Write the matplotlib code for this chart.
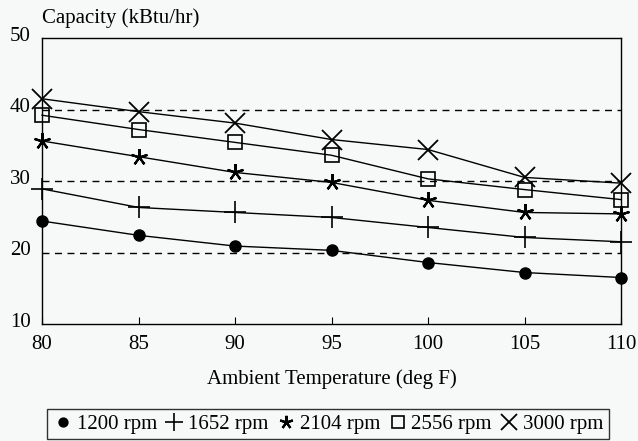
import matplotlib
matplotlib.use('Agg')
import matplotlib.pyplot as plt
from matplotlib.transforms import ScaledTranslation

temps = [80, 85, 90, 95, 100, 105, 110]
rpm_1200 = [24.4, 22.4, 20.9, 20.3, 18.6, 17.2, 16.5]
rpm_1652 = [28.9, 26.3, 25.6, 24.9, 23.5, 22.1, 21.5]
rpm_2104 = [35.6, 33.4, 31.2, 29.8, 27.3, 25.6, 25.4]
rpm_2556 = [39.2, 37.2, 35.4, 33.6, 30.3, 28.8, 27.4]
rpm_3000 = [41.5, 39.7, 38.1, 35.8, 34.4, 30.5, 29.7]
labels = ['1200 rpm', '1652 rpm', '2104 rpm', '2556 rpm', '3000 rpm']

plt.rcParams['font.family'] = ['Liberation Serif', 'DejaVu Serif']

fig = plt.figure(figsize=(6.38, 4.41), dpi=100)
fig.patch.set_facecolor('#f7f9f8')
ax = fig.add_axes([42/638, 1 - 324/441, (621 - 42)/638, (324 - 38)/441])
ax.set_facecolor('#f7f9f8')

for yv in [20, 30, 40]:
    ax.axhline(yv, color='black', lw=1, ls=(0, (5, 4)), zorder=1)

series = [rpm_1200, rpm_1652, rpm_2104, rpm_2556, rpm_3000]
styles = [
    dict(marker='o', ms=8, mfc='black', mew=1),
    dict(marker='+', ms=16, mew=1.2),
    dict(marker=(5, 2, 0), ms=12, mew=1.6),
    dict(marker='s', ms=10, mfc='none', mew=1.2),
    dict(marker='x', ms=14, mew=1.3),
]
for vals, lab, st in zip(series, labels, styles):
    ax.plot(temps, vals, color='black', lw=1, label=lab, clip_on=False, zorder=3, **st)

ax.set_xlim(80, 110)
ax.set_ylim(10, 50)
ax.set_xticks(temps)
ax.set_yticks([10, 20, 30, 40, 50])
ax.tick_params(axis='x', direction='in', length=5, labelsize=15, pad=8)
ax.tick_params(axis='y', length=0, labelsize=15, pad=8)
for lbl in ax.get_yticklabels():
    lbl.set_transform(lbl.get_transform() + ScaledTranslation(0, 3/72, fig.dpi_scale_trans))
for sp in ax.spines.values():
    sp.set_linewidth(1)

ax.set_xlabel('Ambient Temperature (deg F)', fontsize=15, labelpad=11)
fig.text(42/638, 1 - 18/441, 'Capacity (kBtu/hr)', fontsize=15, va='center', ha='left')

leg = fig.legend(loc='center', bbox_to_anchor=(328/638, 1 - 424/441), ncol=5, fontsize=15,
                 frameon=True, fancybox=False, edgecolor='black', handlelength=1.0,
                 handletextpad=0.15, columnspacing=0.35, borderpad=0.25, markerscale=0.8)
leg.get_frame().set_linewidth(1)
leg.get_frame().set_facecolor('#f7f9f8')
for h in leg.get_lines():
    h.set_linestyle('none')

fig.savefig('out.png', dpi=100, facecolor=fig.get_facecolor())
